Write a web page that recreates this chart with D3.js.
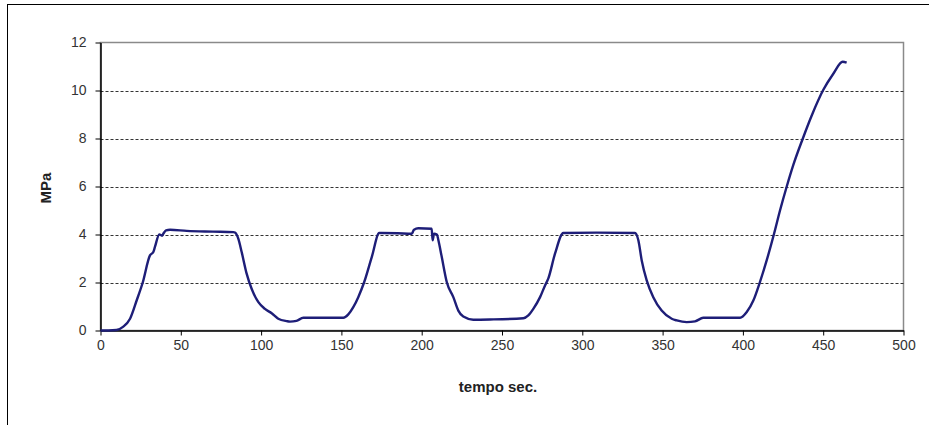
<!DOCTYPE html>
<html><head><meta charset="utf-8">
<script src="https://cdn.jsdelivr.net/npm/d3@7"></script>
<style>body{margin:0;background:#fff}svg{display:block}</style>
</head><body><svg id="c" width="929" height="425"></svg>
<script>
const timeSec = [0,5,10,14,18.4,22.5,26.3,30.8,32.9,33.9,36.6,38.3,39.1,40.8,43.3,53.7,70,82.7,83.7,85.8,87.9,91,94.1,98.3,102.4,106.6,110.7,115.9,118,122,126.3,151.2,154.3,157.4,160.5,164.1,168.9,173.6,175,185,193.8,195.2,197.9,206.2,206.8,207.7,209.5,210.4,212.5,215.6,219.7,222.8,225.9,232.1,242.5,263.3,266.4,269.5,273.7,276.8,278.8,283,288.2,309,332.8,334.9,337,340.1,344.2,349.4,355.7,358.8,365,370.2,375.3,398.2,402.4,406.5,410.6,414.8,419.4,423.1,427.3,431.4,437.2,442.8,450,456.3,462.1,464.6];
const pressureMPa = [0,0,0.02,0.15,0.49,1.25,2.0,3.13,3.27,3.48,4.0,3.95,4.03,4.17,4.2,4.15,4.12,4.1,4.08,3.83,3.27,2.37,1.74,1.18,0.9,0.72,0.49,0.39,0.37,0.4,0.53,0.53,0.67,0.97,1.39,2.0,3.06,4.06,4.06,4.05,4.03,4.2,4.26,4.24,3.76,4.03,4.0,3.76,3.06,2.02,1.39,0.83,0.58,0.45,0.46,0.51,0.63,0.9,1.39,1.88,2.16,3.2,4.06,4.08,4.06,3.76,2.92,2.09,1.39,0.83,0.49,0.42,0.35,0.38,0.53,0.53,0.77,1.25,2.02,2.92,4.03,5.0,6.0,6.9,7.98,8.95,10.02,10.7,11.2,11.16];
const xTicks = [0,50,100,150,200,250,300,350,400,450,500];
const yTicks = [0,2,4,6,8,10,12];
const xTitle = "tempo sec.";
const yTitle = "MPa";

const svg = d3.select("#c");
const m = {l:100.5, r:903.5, t:42.5, b:330.5};
const x = d3.scaleLinear().domain([0,500]).range([m.l,m.r]);
const y = d3.scaleLinear().domain([0,12]).range([m.b,m.t]);
const font = "'Liberation Sans', Arial, sans-serif";

// outer chart border
svg.append("rect").attr("x",7.5).attr("y",4.5).attr("width",940).attr("height",440)
  .attr("fill","#fff").attr("stroke","#000").attr("stroke-width",1);

// plot area border (gray)
svg.append("rect").attr("x",m.l).attr("y",m.t).attr("width",m.r-m.l).attr("height",m.b-m.t)
  .attr("fill","#fff").attr("stroke","#8a8a8a").attr("stroke-width",1.5);

// gridlines
svg.append("g").selectAll("line").data(yTicks.filter(d=>d>0 && d<12)).join("line")
  .attr("x1",m.l).attr("x2",m.r).attr("y1",d=>Math.round(y(d))+0.5).attr("y2",d=>Math.round(y(d))+0.5)
  .attr("stroke","#333").attr("stroke-width",1).attr("stroke-dasharray","3,2");

// axes
const xAxis = d3.axisBottom(x).tickValues(xTicks).tickSize(5).tickPadding(5).tickSizeOuter(0);
const gx = svg.append("g").attr("transform",`translate(0,${m.b})`).call(xAxis);
gx.select(".domain").attr("stroke","#000").attr("stroke-width",1.5);
gx.selectAll(".tick line").attr("stroke","#000");
gx.selectAll("text").attr("font-family",font).attr("font-size",14).attr("fill","#333");

const yAxis = d3.axisLeft(y).tickValues(yTicks).tickSize(5).tickPadding(9).tickSizeOuter(0);
const gy = svg.append("g").attr("transform",`translate(${m.l},0)`).call(yAxis);
gy.select(".domain").attr("stroke","#000").attr("stroke-width",1.5);
gy.selectAll(".tick line").attr("stroke","#000");
gy.selectAll("text").attr("font-family",font).attr("font-size",14).attr("fill","#333");

// line
const data = timeSec.map((t,i)=>({t, p: pressureMPa[i]}));
const line = d3.line().x(d=>x(d.t)).y(d=>y(d.p)).curve(d3.curveMonotoneX);
svg.append("path").datum(data).attr("d",line).attr("fill","none")
  .attr("stroke","#1e1e78").attr("stroke-width",2.4).attr("stroke-linejoin","round");

// titles
svg.append("text").attr("x",498).attr("y",392).attr("text-anchor","middle")
  .attr("font-family",font).attr("font-size",15).attr("font-weight","bold").attr("fill","#222").text(xTitle);
svg.append("text").attr("transform","translate(51,188) rotate(-90)").attr("text-anchor","middle")
  .attr("font-family",font).attr("font-size",15).attr("font-weight","bold").attr("fill","#222").text(yTitle);
</script></body></html>
